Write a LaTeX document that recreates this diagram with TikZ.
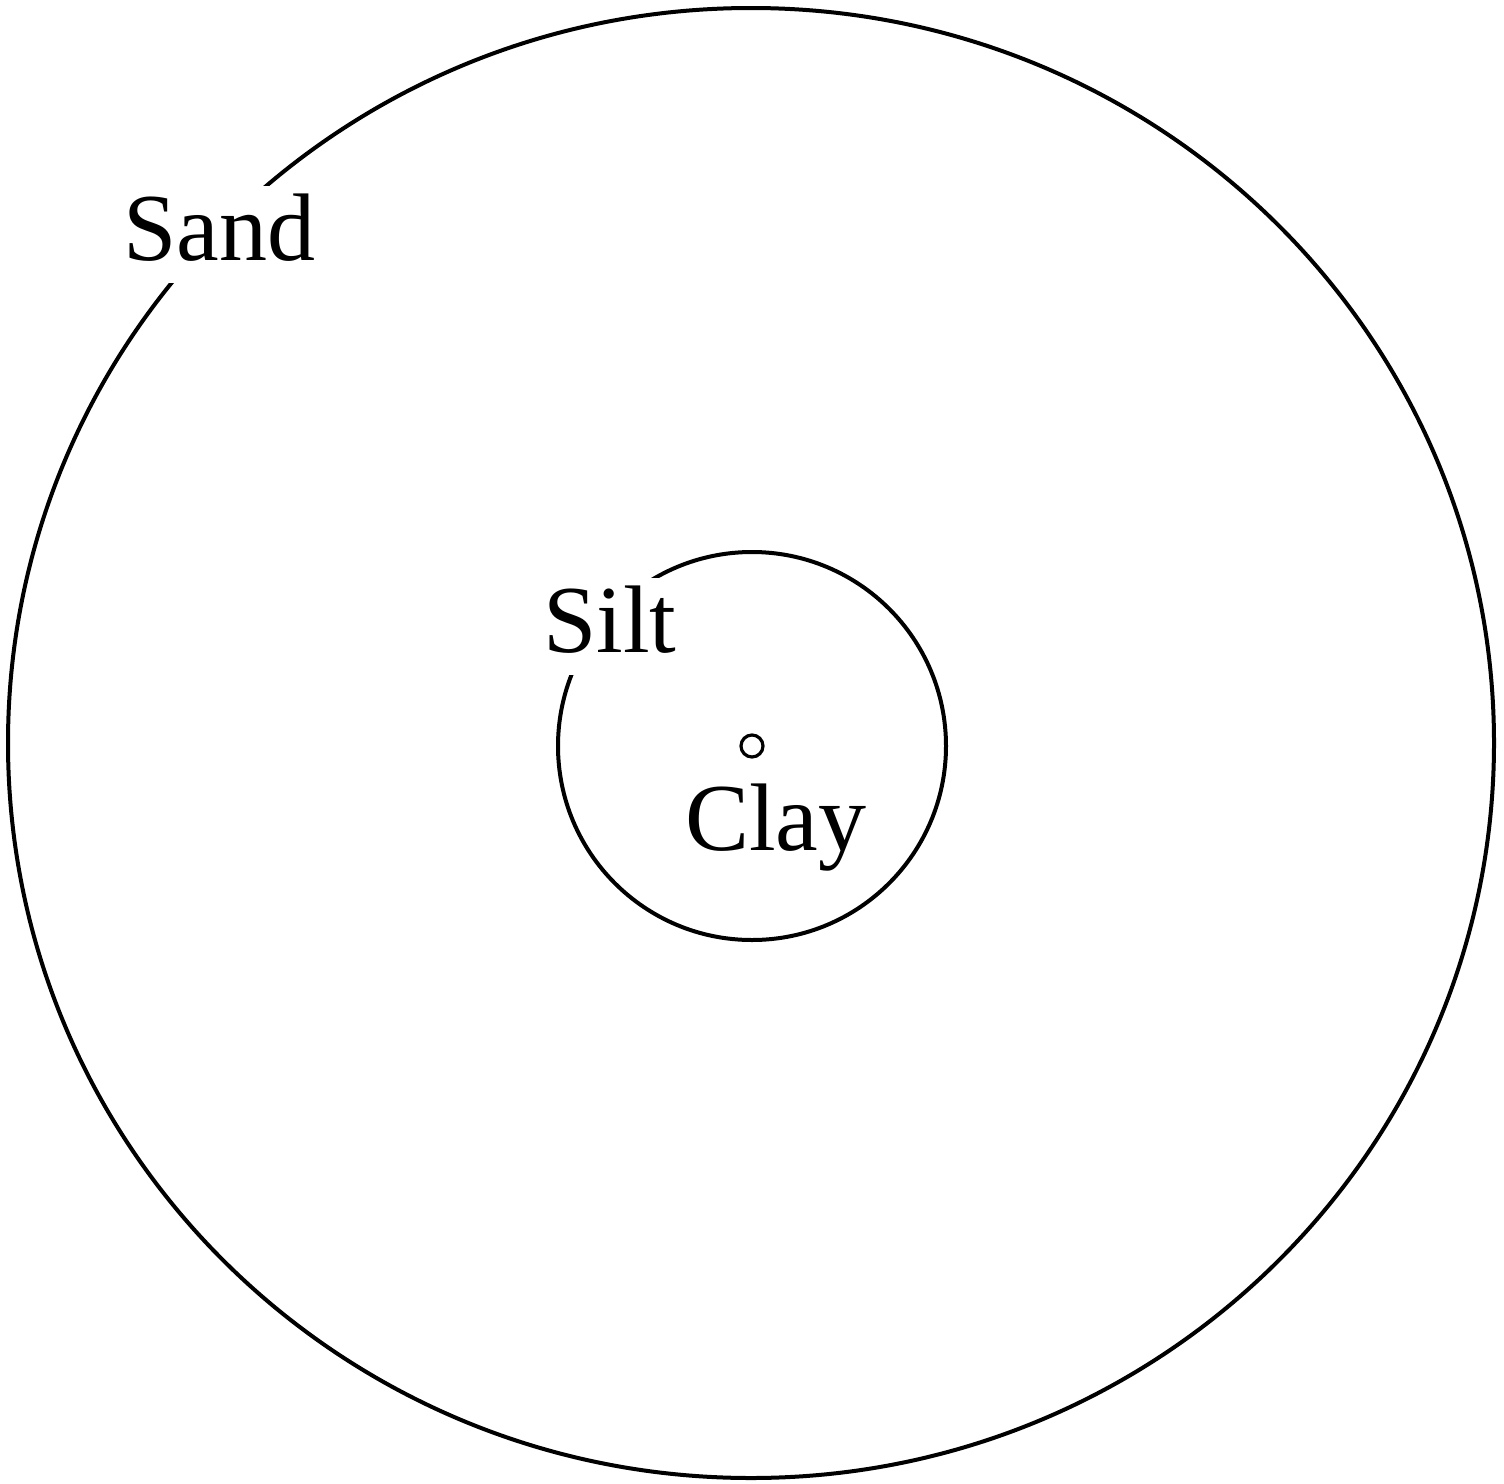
\documentclass[tikz,border=0pt]{standalone}
\usepackage{fontspec}
\setmainfont{Liberation Serif}
\begin{document}
\begin{tikzpicture}[x=1pt,y=-1pt,
  ring/.style={draw=black,line width=4pt},
  lbl/.style={fill=white,inner sep=7pt,text depth=16pt,anchor=base west,font=\fontsize{96}{100}\selectfont}]
\useasboundingbox (0,0) rectangle (1504,1483);
\draw[ring] (751,743) ellipse [x radius=743, y radius=735];
\draw[ring] (752,746) circle [radius=194];
\node[circle,draw=black,line width=3.2pt,minimum size=22pt,inner sep=0pt] (clayc) at (752,746) {};
\node[lbl] (sand) at (116,260) {Sand};
\node[lbl] (silt) at (536,652) {Silt};
\node[lbl,fill=none] (clay) at (678,850) {Clay};
\end{tikzpicture}
\end{document}
